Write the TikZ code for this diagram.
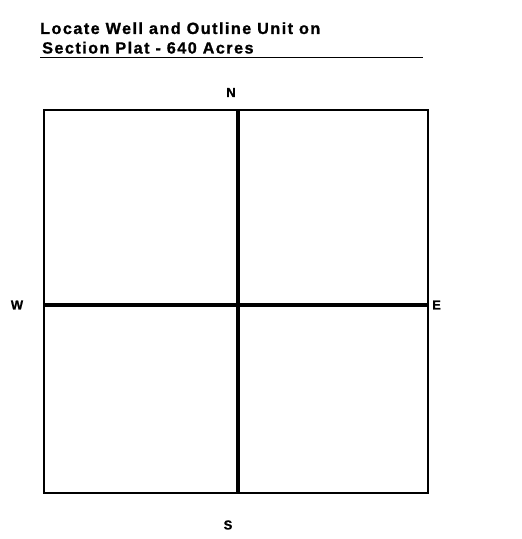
\documentclass[tikz,border=0pt]{standalone}
\usepackage{fontspec}
\setmainfont{Liberation Sans}
\begin{document}
\begin{tikzpicture}[x=1pt,y=1pt,
  lbl/.style={font=\bfseries\fontsize{13}{15}\selectfont\addfontfeature{FakeBold=1}, inner sep=0pt},
  ttl/.style={font=\bfseries\fontsize{16.2}{18}\selectfont\addfontfeature{LetterSpace=9,FakeBold=1}, inner sep=0pt, anchor=base west},
  border/.style={line width=1.6pt},
  divider/.style={line width=4.5pt}]
\useasboundingbox (0,0) rectangle (522,539);
\coordinate (tl) at (44,429);
\coordinate (br) at (428,46);
\coordinate (nt) at (238,429);
\coordinate (sb) at (238,46);
\coordinate (wl) at (44,234);
\coordinate (er) at (428,234);
\draw[border] (tl) rectangle (br);
\draw[divider] (nt) -- (sb);
\draw[divider] (wl) -- (er);
\node[lbl] (N) at (231,446.5) {N};
\node[lbl] (W) at (17,234) {W};
\node[lbl, anchor=west] (E) at (432,234) {E};
\node[lbl] (S) at (228,14) {S};
\node[ttl] (t1) at (40,505) {Locate Well and Outline Unit on};
\node[ttl] (t2) at (42,485.5) {Section Plat - 640 Acres};
\coordinate (u1) at (40,481.5);
\coordinate (u2) at (423,481.5);
\draw[line width=1.3pt] (u1) -- (u2);
\end{tikzpicture}
\end{document}
